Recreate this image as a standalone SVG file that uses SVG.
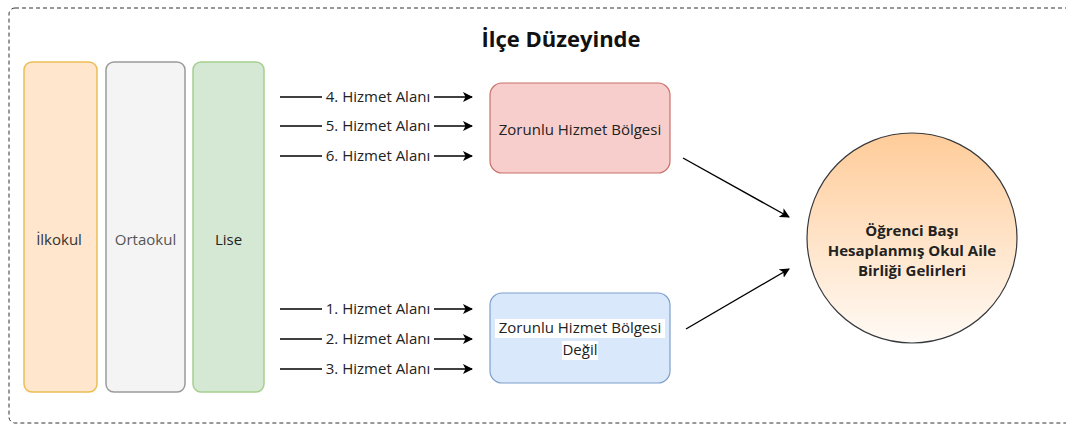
<svg xmlns="http://www.w3.org/2000/svg" width="1066" height="424" viewBox="0 0 1066 424">
  <style>
    text { font-family: "Open Sans", "Liberation Sans", sans-serif; font-size: 15px; fill: #222; }
    .title { font-size: 22px; font-weight: bold; fill: #111; }
    .lbl { text-anchor: middle; }
    .edge { stroke: #000; stroke-width: 1.4; fill: none; }
    .bold { font-weight: bold; }
  </style>
  <defs>
    <marker id="arr" viewBox="0 0 10 10" refX="9" refY="5" markerWidth="10" markerHeight="10" markerUnits="userSpaceOnUse" orient="auto">
      <path d="M0,0 L10,5 L0,10 L2.5,5 Z" fill="#000"/>
    </marker>
    <linearGradient id="circleFill" x1="0" y1="0" x2="0" y2="1">
      <stop offset="0" stop-color="#ffcc99"/>
      <stop offset="1" stop-color="#fffaf5"/>
    </linearGradient>
  </defs>

  <rect width="1066" height="424" fill="#fff"/>

  <!-- outer dashed frame -->
  <g id="frame">
    <rect x="9" y="8" width="1080" height="415" rx="6" fill="none" stroke="#333" stroke-width="1" stroke-dasharray="4 3"/>
    <text class="title lbl" x="561" y="47">İlçe Düzeyinde</text>
  </g>

  <!-- school levels -->
  <g id="ilkokul">
    <rect x="24" y="62" width="73" height="330" rx="8" fill="#ffe6cc" stroke="#ecbd55" stroke-width="1.5"/>
    <text class="lbl" x="59" y="245" style="fill:#333">İlkokul</text>
  </g>
  <g id="ortaokul">
    <rect x="106" y="62" width="79" height="330" rx="8" fill="#f4f4f4" stroke="#9a9a9a" stroke-width="1.5"/>
    <text class="lbl" x="145.5" y="245" style="fill:#555">Ortaokul</text>
  </g>
  <g id="lise">
    <rect x="193" y="62" width="71" height="330" rx="8" fill="#d5e8d4" stroke="#a6cf8f" stroke-width="1.5"/>
    <text class="lbl" x="228.5" y="245">Lise</text>
  </g>

  <!-- regions -->
  <g id="zorunlu">
    <rect x="490" y="83" width="180" height="90" rx="12" fill="#f8cecc" stroke="#c9706b" stroke-width="1.2"/>
    <text class="lbl" x="580" y="135">Zorunlu Hizmet Bölgesi</text>
  </g>
  <g id="zorunlu-degil">
    <rect x="490" y="293" width="180" height="90" rx="12" fill="#dae8fc" stroke="#7f9fcb" stroke-width="1.2"/>
    <rect x="495" y="319" width="170" height="19" fill="#fff"/>
    <rect x="562" y="341" width="36" height="19" fill="#fff"/>
    <text class="lbl" x="580" y="333">Zorunlu Hizmet Bölgesi</text>
    <text class="lbl" x="580" y="355">Değil</text>
  </g>

  <!-- result -->
  <g id="gelirler">
    <circle cx="912" cy="238" r="105" fill="url(#circleFill)" stroke="#36393d" stroke-width="1.2"/>
    <text class="lbl bold" x="912" y="236">Öğrenci Başı</text>
    <text class="lbl bold" x="912" y="256">Hesaplanmış Okul Aile</text>
    <text class="lbl bold" x="912" y="276">Birliği Gelirleri</text>
  </g>

  <!-- connectors -->
  <g id="connectors">
    <g class="edges">
      <path class="edge" d="M280,97 H472" marker-end="url(#arr)"/>
      <path class="edge" d="M280,126 H472" marker-end="url(#arr)"/>
      <path class="edge" d="M280,156 H472" marker-end="url(#arr)"/>
      <path class="edge" d="M280,309 H472" marker-end="url(#arr)"/>
      <path class="edge" d="M280,339 H472" marker-end="url(#arr)"/>
      <path class="edge" d="M280,369 H472" marker-end="url(#arr)"/>
      <path class="edge" d="M683,158 L789,217" marker-end="url(#arr)"/>
      <path class="edge" d="M686,329 L789,269" marker-end="url(#arr)"/>
    </g>
    <g class="edge-labels">
      <rect x="322" y="88" width="112" height="18" fill="#fff"/>
      <rect x="322" y="117" width="112" height="18" fill="#fff"/>
      <rect x="322" y="147" width="112" height="18" fill="#fff"/>
      <rect x="322" y="300" width="112" height="18" fill="#fff"/>
      <rect x="322" y="330" width="112" height="18" fill="#fff"/>
      <rect x="322" y="360" width="112" height="18" fill="#fff"/>
      <text class="lbl" x="378" y="102">4. Hizmet Alanı</text>
      <text class="lbl" x="378" y="131">5. Hizmet Alanı</text>
      <text class="lbl" x="378" y="161">6. Hizmet Alanı</text>
      <text class="lbl" x="378" y="314">1. Hizmet Alanı</text>
      <text class="lbl" x="378" y="344">2. Hizmet Alanı</text>
      <text class="lbl" x="378" y="374">3. Hizmet Alanı</text>
    </g>
  </g>
</svg>
